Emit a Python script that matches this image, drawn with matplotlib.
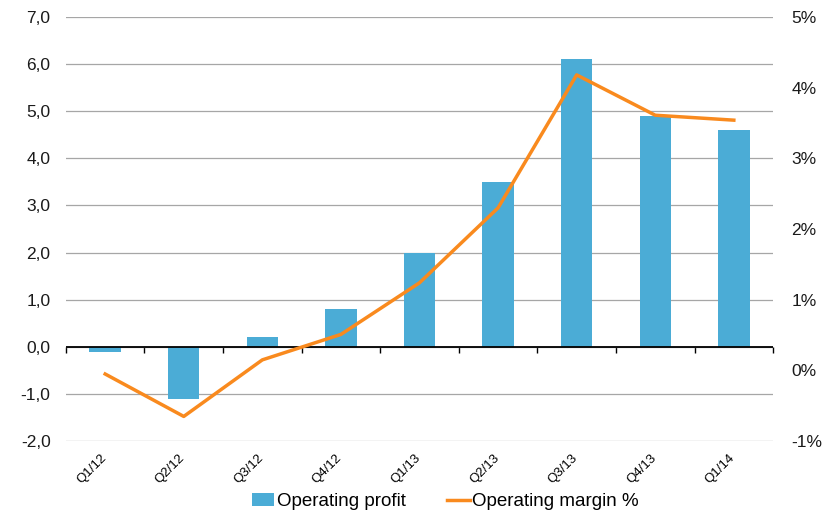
import matplotlib

matplotlib.use("Agg")
import matplotlib.pyplot as plt  # noqa: E402
import matplotlib.transforms as mtransforms  # noqa: E402
import numpy as np  # noqa: E402
from matplotlib.ticker import FuncFormatter  # noqa: E402

quarters = ["Q1/12", "Q2/12", "Q3/12", "Q4/12", "Q1/13", "Q2/13", "Q3/13", "Q4/13", "Q1/14"]
operating_profit = [-0.1, -1.1, 0.2, 0.8, 2.0, 3.5, 6.1, 4.9, 4.6]
operating_margin = [-0.05, -0.65, 0.15, 0.51, 1.24, 2.30, 4.18, 3.61, 3.54]

BAR_C = "#4BACD6"
LINE_C = "#F98A1E"
plt.rcParams.update({"font.family": ["Liberation Sans", "DejaVu Sans"], "font.size": 12.5})

fig = plt.figure(figsize=(8.34, 5.13), dpi=100)
ax = fig.add_axes([0.079, 0.140, 0.848, 0.827])
x = np.arange(len(quarters))
ax.bar(x, operating_profit, 0.4, color=BAR_C, label="Operating profit", zorder=2)
ax.set_xlim(-0.5, len(quarters) - 0.5)
ax.set_ylim(-2, 7)
ax.set_yticks(np.arange(-2, 8))
ax.yaxis.set_major_formatter(FuncFormatter(lambda v, _: f"{v:.1f}".replace(".", ",")))
ax.grid(axis="y", color="#A6A6A6", lw=0.9, zorder=0)
for s in ax.spines.values():
    s.set_visible(False)
ax.tick_params(axis="y", length=0, pad=11, colors="#1a1a1a")
ax.set_xticks(x)
ax.set_xticklabels(quarters, rotation=45, ha="right", rotation_mode="anchor", fontsize=9.5)
ax.tick_params(axis="x", length=0, pad=8)
shift = mtransforms.ScaledTranslation(-5 / 100, 0, fig.dpi_scale_trans)
for lbl in ax.get_xticklabels():
    lbl.set_transform(lbl.get_transform() + shift)

# zero line with category-boundary ticks
ax.axhline(0, color="black", lw=1.3, zorder=3)
zero = ax.secondary_xaxis(2 / 9)
zero.set_xticks(np.arange(len(quarters) + 1) - 0.5)
zero.tick_params(length=4, direction="out", labelbottom=False, width=1)
zero.spines["bottom"].set_visible(False)

ax2 = ax.twinx()
ax2.plot(x, operating_margin, color=LINE_C, lw=2.5, label="Operating margin %", zorder=4)
ax2.set_ylim(-1, 5)
ax2.set_yticks(np.arange(-1, 6))
ax2.yaxis.set_major_formatter(FuncFormatter(lambda v, _: f"{v:.0f}%"))
for s in ax2.spines.values():
    s.set_visible(False)
ax2.tick_params(axis="y", length=0, pad=13, colors="#1a1a1a")

h1, l1 = ax.get_legend_handles_labels()
h2, l2 = ax2.get_legend_handles_labels()
fig.legend(h1 + h2, l1 + l2, loc="lower center", bbox_to_anchor=(0.534, -0.028), ncol=2,
           frameon=False, fontsize=13.5, handlelength=1.2, handletextpad=0.15, columnspacing=2.2)

fig.savefig("out.png", dpi=100)
